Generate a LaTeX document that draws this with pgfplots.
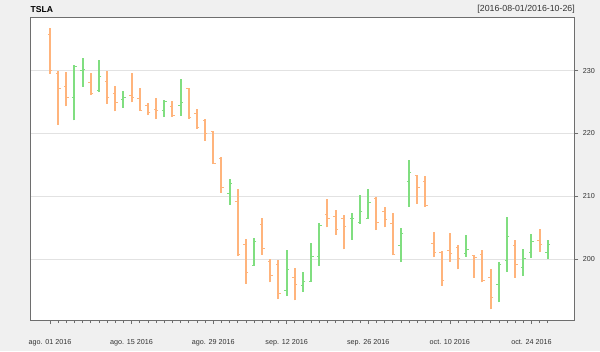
\documentclass[border=0pt]{standalone}
\usepackage{pgfplots}
\pgfplotsset{compat=1.18}
\usepackage{pgfplotstable}
\usepackage{fontspec}
\setmainfont{Liberation Sans}
\definecolor{upc}{HTML}{80DE80}
\definecolor{dnc}{HTML}{FFB47C}
\definecolor{bgc}{HTML}{F0F0F0}
\definecolor{gridc}{HTML}{E2E2E2}
\definecolor{framec}{HTML}{6E6E6E}
\definecolor{txt}{HTML}{333333}

% up (close >= open) bars
\pgfplotstableread{
x o h l c
3 225.7 230.9 222.1 230.7
4 230.0 232.05 227.4 230.15
6 226.9 231.7 226.6 229.1
9 225.4 226.75 224.1 225.7
14 223.6 225.3 222.6 225.1
16 224.4 228.6 222.8 224.95
22 210.45 212.7 208.65 212.05
25 199.0 203.3 198.9 202.8
29 195.0 201.4 194.1 198.3
31 195.75 197.9 194.8 196.4
32 196.5 202.5 196.4 200.4
33 200.4 205.7 198.9 205.4
37 206.4 207.3 203.1 206.5
38 205.9 210.2 205.65 207.5
39 206.5 211.1 206.4 209.0
43 202.2 205.0 199.5 204.1
44 212.4 215.8 208.3 213.75
51 200.95 203.9 200.35 201.55
55 196.0 199.5 193.15 199.15
56 199.8 206.75 198.0 203.55
58 198.6 201.6 197.35 200.1
59 201.05 204.0 200.2 202.8
61 201.1 203.1 200.05 202.35
}\upbars

% down bars
\pgfplotstableread{
x o h l c
0 235.7 236.75 229.5 230.0
1 229.6 230.0 221.4 227.2
2 227.5 229.8 224.3 225.8
5 228.1 229.7 226.2 226.3
7 228.3 230.0 224.7 225.7
8 226.3 227.6 223.5 225.0
10 226.1 229.6 224.95 225.7
11 225.5 227.2 223.6 223.7
12 224.4 224.9 222.9 223.4
13 223.9 225.7 222.3 223.7
15 224.3 225.2 222.7 222.9
17 227.1 227.2 222.3 222.6
18 223.2 223.9 220.75 221.0
19 222.1 222.3 218.8 220.0
20 220.3 220.4 215.1 215.2
21 216.0 216.3 210.55 211.35
23 209.1 211.15 200.5 200.7
24 202.35 203.2 196.1 197.8
26 205.5 206.6 200.7 201.75
27 199.6 199.95 196.3 197.4
28 199.1 199.9 193.6 194.5
30 197.0 198.5 193.4 196.0
34 207.1 209.55 205.05 206.4
35 206.85 207.8 203.9 204.7
36 206.4 207.0 201.55 205.25
40 209.7 209.9 204.6 205.9
41 207.6 208.3 205.05 206.3
42 205.6 207.3 200.6 200.7
45 213.25 213.4 208.8 211.4
46 212.3 213.2 208.3 208.5
47 202.5 204.3 200.3 201.05
48 201.1 201.3 195.75 196.6
49 201.4 204.2 199.6 200.95
50 201.85 202.2 198.35 200.1
52 200.6 200.7 197.0 200.25
53 200.75 201.5 196.3 196.55
54 197.0 198.4 192.0 193.9
57 202.2 203.0 197.0 199.15
60 203.0 204.8 201.2 202.4
}\dnbars

\begin{document}
\begin{tikzpicture}
\fill[bgc] (0,0) rectangle (600pt,-351pt);
\node[anchor=west, inner sep=0pt, font=\fontsize{8.6}{10}\selectfont\bfseries] at (30.5pt,-9.3pt) {TSLA};
\node[anchor=east, inner sep=0pt, text=txt, font=\fontsize{8.8}{10}\selectfont] at (575pt,-9.6pt) {[2016-08-01/2016-10-26]};
\begin{axis}[
  at={(30.3pt,-320pt)}, anchor=south west,
  scale only axis, width=544pt, height=302.7pt,
  xmin=-2.41, xmax=64.25, ymin=190.29, ymax=238.5,
  axis background/.style={fill=white},
  axis line style={framec, line width=0.8pt},
  ytick={200,210,220,230},
  ymajorgrids, grid style={gridc, line width=0.9pt},
  ytick pos=right, yticklabel pos=right,
  xtick pos=bottom,
  tick align=outside,
  major tick length=4pt, minor tick length=3pt,
  xtick={0,10,20,29,39,49,59},
  xticklabels={ago. 01 2016, ago. 15 2016, ago. 29 2016, sep. 12 2016, sep. 26 2016, oct. 10 2016, oct. 24 2016},
  minor xtick={0,...,61},
  tick style={framec, line width=0.6pt},
  tick label style={font=\fontsize{7.2}{8}\selectfont, text=txt},
  /pgf/number format/assume math mode=true,
  yticklabel style={xshift=1pt},
  xticklabel style={yshift=-12pt},
]
\addplot[dnc, line width=2pt, line cap=butt, mark=none,
  quiver={u=0, v=\thisrow{h}-\thisrow{l}}]
  table[x=x, y=l] {\dnbars};
\addplot[upc, line width=2pt, line cap=butt, mark=none,
  quiver={u=0, v=\thisrow{h}-\thisrow{l}}]
  table[x=x, y=l] {\upbars};
\addplot[dnc, only marks, mark=-, mark size=1.2pt, mark options={xshift=-1.2pt, line width=0.9pt}]
  table[x=x, y=o] {\dnbars};
\addplot[dnc, only marks, mark=-, mark size=1.2pt, mark options={xshift=1.2pt, line width=0.9pt}]
  table[x=x, y=c] {\dnbars};
\addplot[upc, only marks, mark=-, mark size=1.2pt, mark options={xshift=-1.2pt, line width=0.9pt}]
  table[x=x, y=o] {\upbars};
\addplot[upc, only marks, mark=-, mark size=1.2pt, mark options={xshift=1.2pt, line width=0.9pt}]
  table[x=x, y=c] {\upbars};
\end{axis}
\end{tikzpicture}
\end{document}
